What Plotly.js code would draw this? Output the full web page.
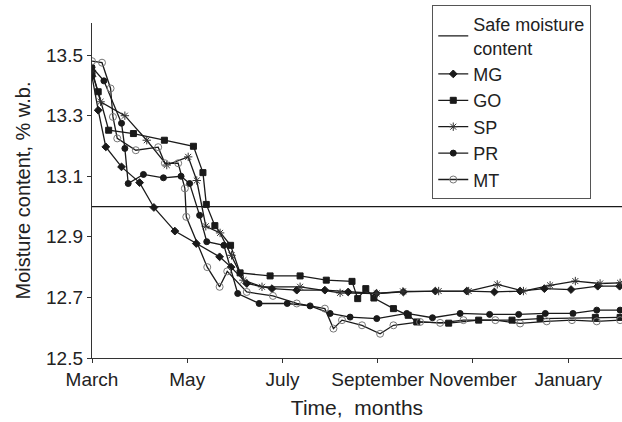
<!DOCTYPE html>
<html><head><meta charset="utf-8">
<script src="https://cdn.plot.ly/plotly-3.0.1.min.js"></script>
<style>html,body{margin:0;padding:0;background:#fff}#c{width:622px;height:422px}</style>
</head><body><div id="c"></div>
<script>
// x = months elapsed since 1 March
const monthTicks = [0, 2, 4, 6, 8, 10];
const monthLabels = ["March", "May", "July", "September", "November", "January"];
const yTicks = [12.5, 12.7, 12.9, 13.1, 13.3, 13.5];
const safeX = [0, 11.13];
const safeY = [13.0, 13.0];

const mgX = [0, 0.13, 0.29, 0.62, 1.00, 1.30, 1.74, 2.19, 2.68, 2.92, 3.25, 3.78, 4.30, 4.89, 5.38, 5.97, 6.54, 7.21, 7.87, 8.45, 8.99, 9.50, 10.06, 10.62, 11.08];
const mgY = [13.43, 13.318, 13.197, 13.131, 13.079, 12.997, 12.919, 12.878, 12.834, 12.80, 12.746, 12.729, 12.724, 12.724, 12.718, 12.713, 12.718, 12.721, 12.721, 12.718, 12.721, 12.729, 12.726, 12.737, 12.737];

const goX = [0, 0.13, 0.35, 0.87, 1.52, 2.13, 2.33, 2.40, 2.58, 2.91, 3.11, 3.74, 4.37, 4.92, 5.46, 5.58, 5.75, 5.92, 6.33, 6.64, 6.82, 7.49, 8.12, 8.82, 9.41, 10.57, 11.09];
const goY = [13.44, 13.379, 13.252, 13.241, 13.219, 13.199, 13.112, 13.007, 12.937, 12.872, 12.781, 12.771, 12.771, 12.757, 12.753, 12.696, 12.729, 12.698, 12.663, 12.641, 12.619, 12.615, 12.625, 12.625, 12.63, 12.634, 12.634];

const spX = [0, 0.18, 0.69, 1.15, 1.57, 2.02, 2.20, 2.39, 2.69, 2.93, 3.18, 3.57, 4.37, 5.21, 5.98, 6.53, 7.28, 7.91, 8.51, 9.06, 9.62, 10.15, 10.67, 11.09];
const spY = [13.45, 13.346, 13.30, 13.219, 13.137, 13.164, 13.086, 12.935, 12.913, 12.839, 12.757, 12.735, 12.735, 12.715, 12.713, 12.72, 12.721, 12.721, 12.743, 12.721, 12.74, 12.754, 12.746, 12.748];

const prX = [0, 0.25, 0.62, 0.69, 0.76, 1.08, 1.50, 1.87, 2.05, 2.26, 2.41, 2.77, 3.06, 3.51, 4.10, 4.58, 5.00, 5.42, 5.98, 6.61, 7.15, 7.73, 8.35, 8.96, 9.52, 10.10, 10.60, 11.09];
const prY = [13.46, 13.415, 13.275, 13.192, 13.076, 13.106, 13.095, 13.10, 13.076, 12.971, 12.884, 12.872, 12.713, 12.68, 12.68, 12.672, 12.647, 12.635, 12.63, 12.647, 12.633, 12.647, 12.644, 12.644, 12.647, 12.647, 12.658, 12.658];

const mtX = [0, 0.21, 0.39, 0.44, 0.53, 0.92, 1.39, 1.53, 1.81, 1.95, 1.98, 2.42, 2.68, 2.84, 3.25, 3.80, 4.30, 4.89, 5.07, 5.25, 5.67, 6.05, 6.33, 6.89, 7.31, 7.80, 8.47, 8.99, 9.55, 10.08, 10.60, 11.09];
const mtY = [13.48, 13.475, 13.39, 13.296, 13.225, 13.186, 13.196, 13.143, 13.143, 13.06, 12.966, 12.80, 12.735, 12.786, 12.718, 12.705, 12.68, 12.663, 12.597, 12.625, 12.608, 12.58, 12.608, 12.619, 12.616, 12.625, 12.625, 12.614, 12.621, 12.625, 12.621, 12.625];

const ink = "#1a1a1a";
function series(name, x, y, symbol, size, mcolor, fill) {
  return {
    type: "scatter", mode: "lines+markers", name: name, x: x, y: y,
    line: {color: ink, width: 1.3},
    marker: {symbol: symbol, size: size, color: fill, line: {color: mcolor, width: 1}}
  };
}
const traces = [
  {type: "scatter", mode: "lines", name: "Safe moisture<br>content", x: safeX, y: safeY, line: {color: ink, width: 1.2}},
  series("MG", mgX, mgY, "diamond", 6, ink, ink),
  series("GO", goX, goY, "square", 6, ink, ink),
  series("SP", spX, spY, "asterisk-open", 7, "#333", "#333"),
  series("PR", prX, prY, "circle", 6, ink, ink),
  series("MT", mtX, mtY, "circle-open", 7, "#777", "#777")
];
const fam = "Liberation Sans, Arial, sans-serif";
const layout = {
  width: 622, height: 422,
  margin: {l: 92, r: 0, t: 23, b: 64},
  paper_bgcolor: "#fff", plot_bgcolor: "#fff",
  font: {family: fam, size: 19, color: "#222"},
  showlegend: true,
  legend: {x: 0.642, y: 1.054, xanchor: "left", yanchor: "top", bgcolor: "#fff", bordercolor: "#555", borderwidth: 1,
           font: {family: fam, size: 18, color: "#222"}, tracegroupgap: 0},
  xaxis: {
    range: [0, 11.13], tickvals: monthTicks, ticktext: monthLabels, tickangle: 0,
    tickfont: {family: fam, size: 19, color: "#222"},
    showline: true, linecolor: "#333", linewidth: 1.2, showgrid: false, zeroline: false,
    ticks: "outside", ticklen: 4, tickcolor: "#333",
    title: {text: "Time,\u00a0 months", font: {family: fam, size: 21, color: "#222"}, standoff: 11}
  },
  yaxis: {
    range: [12.5, 13.606], tickvals: yTicks, tickformat: ".1f",
    tickfont: {family: fam, size: 19, color: "#222"},
    showline: true, linecolor: "#333", linewidth: 1.2, showgrid: false, zeroline: false,
    ticks: "outside", ticklen: 4, tickcolor: "#333",
    title: {text: "Moisture content, % w.b.", font: {family: fam, size: 20, color: "#222"}, standoff: 10}
  }
};
Plotly.newPlot("c", traces, layout, {displayModeBar: false, staticPlot: true});
</script></body></html>
